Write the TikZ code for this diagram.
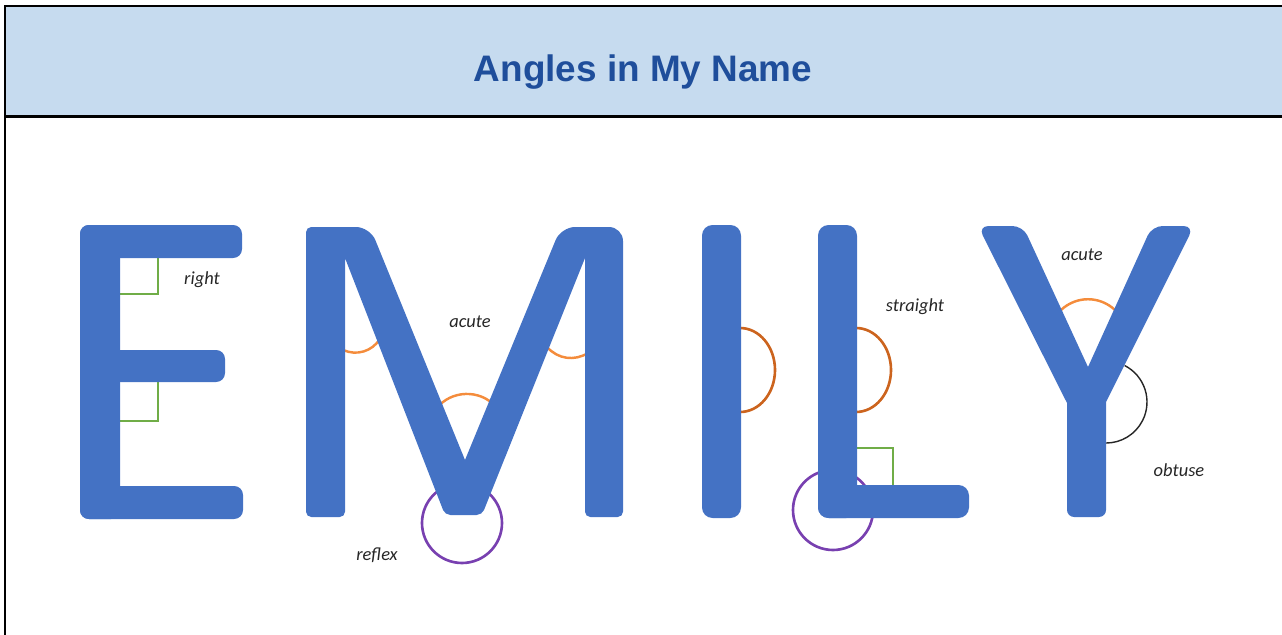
\documentclass[tikz,border=0pt]{standalone}
\usepackage{fontspec}
\setmainfont{Carlito}
\newfontfamily\titlefont{Liberation Sans}
\definecolor{letterblue}{RGB}{68,114,196}
\definecolor{hdrblue}{RGB}{198,219,239}
\definecolor{titleblue}{RGB}{31,78,155}
\definecolor{markgreen}{RGB}{112,173,71}
\definecolor{acuteorange}{RGB}{244,140,60}
\definecolor{straightorange}{RGB}{204,100,30}
\definecolor{reflexpurple}{RGB}{120,64,176}
\definecolor{labelgray}{RGB}{38,38,38}
\begin{document}
\begin{tikzpicture}[x=0.02cm,y=0.02cm,
  letter/.style={fill=letterblue},
  rightmark/.style={draw=markgreen,line width=1.4pt},
  acutearc/.style={draw=acuteorange,line width=1.4pt},
  straightarc/.style={draw=straightorange,line width=1.5pt},
  reflexarc/.style={draw=reflexpurple,line width=1.5pt},
  obtusearc/.style={draw=black!85,line width=0.8pt},
  lbl/.style={font=\itshape\fontsize{10.5}{12}\selectfont,text=labelgray,inner sep=0pt}]
\useasboundingbox (0,0) rectangle (1282,-635);
% frame and header
\fill[hdrblue] (5,-6) rectangle (1282,-116.5);
\draw[line width=1.2pt] (1282,-6) -- (5,-6) -- (5,-635);
\draw[line width=1.2pt] (5,-116.5) -- (1282,-116.5);
\node[font=\titlefont\bfseries\fontsize{21}{25}\selectfont, text=titleblue] (title) at (643,-72) {Angles in My Name};
% angle marks (behind the letters)
\draw[reflexarc] (462,-523) circle[radius=40];
\draw[reflexarc] (833,-510) circle[radius=40];
\coordinate (ma1) at (343,-350); \coordinate (ma2) at (380,-339);
\draw[acutearc] (ma1) to[bend right=40] (ma2);
\coordinate (ma3) at (547,-347); \coordinate (ma4) at (588,-353);
\draw[acutearc] (ma3) to[bend right=40] (ma4);
\coordinate (ma5) at (437,-408); \coordinate (ma6) at (495,-406);
\draw[acutearc] (ma5) to[bend left=50] (ma6);
\coordinate (ya1) at (1061,-310); \coordinate (ya2) at (1115,-310);
\draw[acutearc] (ya1) to[bend left=43] (ya2);
\draw[straightarc] (740,-328) arc[start angle=90,end angle=-90,x radius=35,y radius=42];
\draw[straightarc] (856,-328) arc[start angle=90,end angle=-90,x radius=35,y radius=42];
\draw[obtusearc] (1124.6,-365.5) arc[start angle=63,end angle=-90,radius=41];
\draw[rightmark] (158,-256) -- (158,-294) -- (118,-294);
\draw[rightmark] (158,-380) -- (158,-421) -- (118,-421);
\draw[rightmark] (855,-448) -- (893,-448) -- (893,-487);
% E
\fill[letter,rounded corners=5pt] (80,-225) rectangle (120,-519);
\fill[letter,rounded corners=5pt] (80,-225) rectangle (242,-258);
\fill[letter,rounded corners=5pt] (80,-350) rectangle (225,-382);
\fill[letter,rounded corners=5pt] (80,-486) rectangle (243,-519);
% M
\fill[letter] (325,-517) [rounded corners=3pt] -- (306,-517) -- (306,-227) [rounded corners=8pt] -- (370,-227) [sharp corners] -- (465,-460) [rounded corners=8pt] -- (561,-227) -- (623,-227) [rounded corners=3pt] -- (623,-517) -- (585,-517) [sharp corners] -- (585,-258) [rounded corners=3pt] -- (482,-515) -- (445,-515) [sharp corners] -- (345,-258) [rounded corners=3pt] -- (345,-517) -- cycle;
% I
\fill[letter,rounded corners=6pt] (702,-225) rectangle (741,-518);
% L
\fill[letter,rounded corners=6pt] (818,-225) rectangle (857,-518);
\fill[letter,rounded corners=6pt] (818,-485) rectangle (969,-518);
% Y
\fill[letter] (1086,-517) [rounded corners=4pt] -- (1067,-517) [sharp corners] -- (1067,-403) [rounded corners=6pt] -- (978,-226) -- (1023,-226) [sharp corners] -- (1088,-367) [rounded corners=6pt] -- (1152,-226) -- (1194,-226) [sharp corners] -- (1106,-402) [rounded corners=4pt] -- (1106,-517) -- cycle;
% labels
\node[lbl] (lright) at (202,-280) {right};
\node[lbl] (lacuteM) at (470,-322) {acute};
\node[lbl] (lreflex) at (377,-555) {reflex};
\node[lbl] (lstraight) at (915,-307) {straight};
\node[lbl] (lacuteY) at (1082,-255) {acute};
\node[lbl] (lobtuse) at (1179,-470) {obtuse};
\end{tikzpicture}
\end{document}
